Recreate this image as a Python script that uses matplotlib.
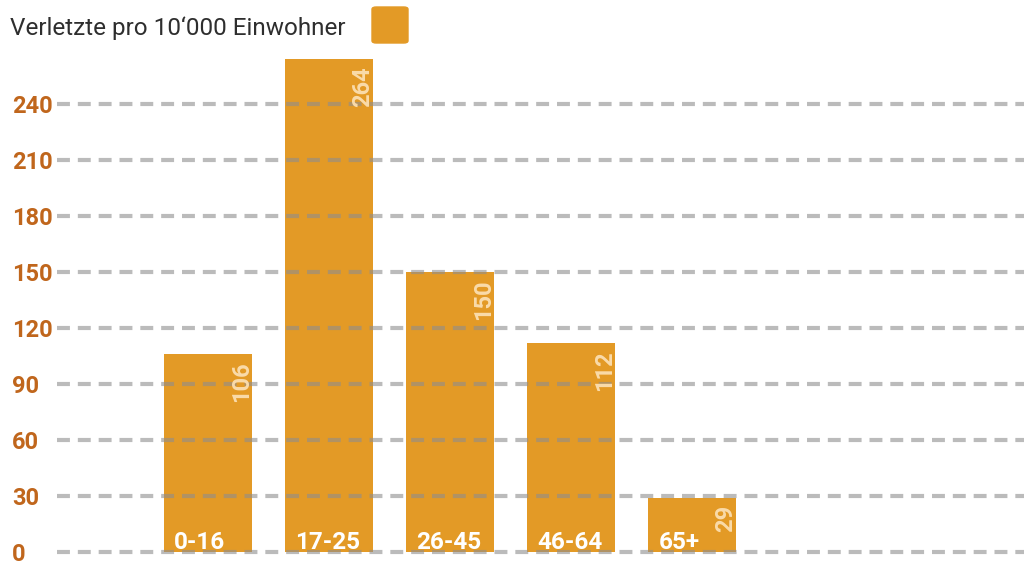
import matplotlib.pyplot as plt
from matplotlib.patches import FancyBboxPatch

categories = ['0-16', '17-25', '26-45', '46-64', '65+']
values = [106, 264, 150, 112, 29]
yticks = [0, 30, 60, 90, 120, 150, 180, 210, 240]
title = 'Verletzte pro 10‘000 Einwohner'

BAR = '#E39A26'
TICK = '#C0661C'
VAL = '#FADBAA'

plt.rcParams['font.family'] = ['Roboto', 'DejaVu Sans']

fig = plt.figure(figsize=(10.24, 5.65), dpi=100)
ax = fig.add_axes([57 / 1024, 0.0131, 1 - 57 / 1024, 0.9019])

x = list(range(len(categories)))
width = 0.73
ax.bar(x, values, width=width, color=BAR, zorder=2)

for t in yticks:
    line = ax.axhline(t, color='#8e8e8e', alpha=0.6, lw=3, zorder=3)
    line.set_dashes((3.1, 1.9))

for i, (c, v) in enumerate(zip(categories, values)):
    ax.text(i - width / 2 + 0.085, 1.5, c, color='white', fontsize=17.5,
            fontweight='bold', ha='left', va='baseline', zorder=4)
    ax.text(i + width / 2 - 0.09, v - 4, str(v), color=VAL, fontsize=17,
            fontweight='bold', rotation=90, ha='center', va='top', zorder=4)

ax.set_xlim(-1.248, 6.74)
ax.set_ylim(-3, 270)
ax.set_xticks([])
ax.set_yticks(yticks)
ax.set_yticklabels([str(t) for t in yticks], color=TICK, fontsize=17,
                   fontweight='bold', ha='left')
ax.tick_params(axis='y', length=0, pad=32.4)
for s in ax.spines.values():
    s.set_visible(False)

fig.text(10 / 1024, 1 - 28 / 565, title, color='#2e2e2e', fontsize=17.5,
         ha='left', va='center')
fig.patches.append(FancyBboxPatch((372 / 1024, 1 - 43 / 565), 36 / 1024, 36 / 565,
                                  boxstyle='round,pad=0,rounding_size=0.004',
                                  transform=fig.transFigure, color=BAR))

fig.savefig('out.png', dpi=100)
